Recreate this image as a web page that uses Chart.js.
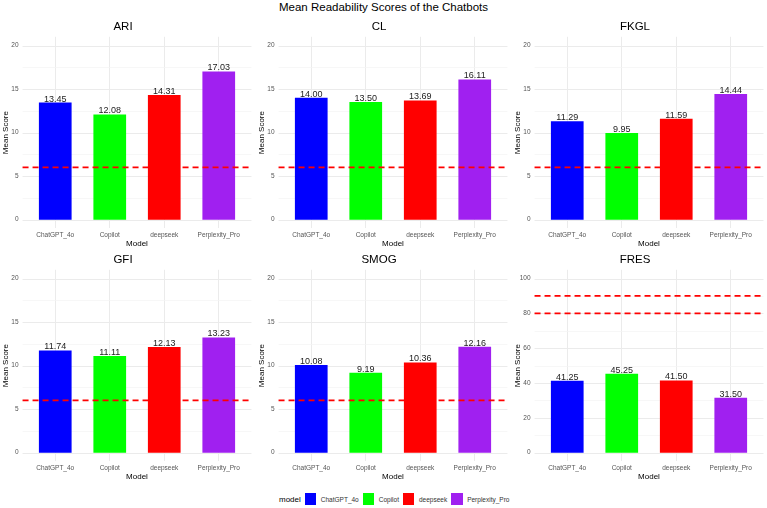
<!DOCTYPE html>
<html>
<head>
<meta charset="utf-8">
<script src="https://cdn.jsdelivr.net/npm/chart.js@4.4.1/dist/chart.umd.min.js"></script>
<style>
  body { margin: 0; background: #fff; width: 767px; height: 508px; position: relative; overflow: hidden;
         font-family: "Liberation Sans", Arial, sans-serif; }
  canvas { position: absolute; }
  #mainTitle { position: absolute; left: 0; top: 1px; width: 767px; text-align: center; font-size: 11.5px; color: #000; }
  #legend { position: absolute; left: 279px; top: 493px; height: 12px; display: flex; align-items: center; }
  #legend .ttl { font-size: 8px; color: #000; margin-right: 4px; }
  #legend .sw { width: 11.5px; height: 11.5px; margin-right: 4.5px; }
  #legend .lb { font-size: 6.5px; color: #333; margin-right: 4px; }
</style>
</head>
<body>
<div id="mainTitle">Mean Readability Scores of the Chatbots</div>
<div id="legend"><span class="ttl">model</span></div>

<script>
// categories + per-panel means
const models = ['ChatGPT_4o', 'Copilot', 'deepseek', 'Perplexity_Pro'];
const ariScores  = [13.45, 12.08, 14.31, 17.03];
const clScores   = [14.00, 13.50, 13.69, 16.11];
const fkglScores = [11.29, 9.95, 11.59, 14.44];
const gfiScores  = [11.74, 11.11, 12.13, 13.23];
const smogScores = [10.08, 9.19, 10.36, 12.16];
const fresScores = [41.25, 45.25, 41.50, 31.50];

// axis ticks and reference lines
const gradeTicks = [0, 5, 10, 15, 20];
const fresTicks = [0, 20, 40, 60, 80, 100];
const gradeTargets = [6];
const fresTargets = [80, 90];

const modelColors = ['#0000ff', '#00ff00', '#ff0000', '#a020f0'];

const panels = [
  { name: 'ARI',  values: ariScores,  ticks: gradeTicks, targets: gradeTargets, col: 0, row: 0 },
  { name: 'CL',   values: clScores,   ticks: gradeTicks, targets: gradeTargets, col: 1, row: 0 },
  { name: 'FKGL', values: fkglScores, ticks: gradeTicks, targets: gradeTargets, col: 2, row: 0 },
  { name: 'GFI',  values: gfiScores,  ticks: gradeTicks, targets: gradeTargets, col: 0, row: 1 },
  { name: 'SMOG', values: smogScores, ticks: gradeTicks, targets: gradeTargets, col: 1, row: 1 },
  { name: 'FRES', values: fresScores, ticks: fresTicks,  targets: fresTargets,  col: 2, row: 1 }
];

const colLeft = [0, 256, 512];
const rowTop = [18, 251];
const FONT = '"Liberation Sans", Arial, sans-serif';

// ggplot-like panel: grid wider than the bars, dashed refs, value labels
const panelDecor = {
  id: 'panelDecor',
  beforeDatasetsDraw(chart, args, opts) {
    const { ctx, chartArea, scales: { x, y } } = chart;
    const ext = 0.1 * (x.getPixelForValue(1) - x.getPixelForValue(0));
    ctx.save();
    y.ticks.forEach(t => {
      const py = Math.round(y.getPixelForValue(t.value)) + 0.5;
      const major = opts.majors.includes(t.value);
      ctx.strokeStyle = major ? '#ebebeb' : '#f4f4f4';
      ctx.lineWidth = major ? 1 : 0.7;
      ctx.beginPath();
      ctx.moveTo(chartArea.left - ext, py);
      ctx.lineTo(chartArea.right + ext, py);
      ctx.stroke();
    });
    ctx.restore();
  },
  afterDatasetsDraw(chart, args, opts) {
    const { ctx, chartArea, scales: { x, y } } = chart;
    const ext = 0.1 * (x.getPixelForValue(1) - x.getPixelForValue(0));
    ctx.save();
    ctx.strokeStyle = '#ff0000';
    ctx.lineWidth = 1.8;
    ctx.setLineDash([6, 4]);
    opts.targets.forEach(v => {
      const py = y.getPixelForValue(v);
      ctx.beginPath();
      ctx.moveTo(chartArea.left - ext, py);
      ctx.lineTo(chartArea.right + ext, py);
      ctx.stroke();
    });
    ctx.setLineDash([]);
    ctx.fillStyle = '#222';
    ctx.font = '9px ' + FONT;
    ctx.textAlign = 'center';
    ctx.textBaseline = 'alphabetic';
    const vals = chart.data.datasets[0].data;
    chart.getDatasetMeta(0).data.forEach((bar, i) => {
      ctx.fillText(vals[i].toFixed(2), bar.x, bar.y - 1);
    });
    ctx.restore();
  }
};

panels.forEach(p => {
  const canvas = document.createElement('canvas');
  canvas.width = 255;
  canvas.height = 232;
  canvas.style.left = colLeft[p.col] + 'px';
  canvas.style.top = rowTop[p.row] + 'px';
  document.body.appendChild(canvas);

  const step = p.ticks[1] - p.ticks[0];
  const span = p.ticks[p.ticks.length - 1] - p.ticks[0];
  const allTicks = [];
  p.ticks.forEach((v, i) => {
    allTicks.push(v);
    if (i < p.ticks.length - 1) allTicks.push(v + step / 2);
  });

  new Chart(canvas, {
    type: 'bar',
    data: {
      labels: models,
      datasets: [{
        data: p.values,
        backgroundColor: modelColors,
        borderWidth: 0,
        barPercentage: 0.6,
        categoryPercentage: 1
      }]
    },
    options: {
      responsive: false,
      animation: false,
      devicePixelRatio: 1,
      layout: { padding: { left: 0, right: 9, top: 0, bottom: 0 } },
      plugins: {
        legend: { display: false },
        tooltip: { enabled: false },
        title: {
          display: true,
          text: p.name,
          color: '#000',
          font: { family: FONT, size: 11.5, weight: 'normal', lineHeight: 1.2 },
          padding: { top: 2, bottom: 3 }
        },
        panelDecor: { majors: p.ticks, targets: p.targets }
      },
      scales: {
        x: {
          type: 'category',
          offset: true,
          border: { display: false },
          grid: { offset: false, color: '#ebebeb', drawTicks: false },
          ticks: {
            color: '#555', padding: 3, maxRotation: 0, autoSkip: false,
            font: { family: FONT, size: 6.5 }
          },
          title: {
            display: true, text: 'Model', color: '#000',
            font: { family: FONT, size: 8 }, padding: { top: 0, bottom: 1.2 }
          },
          afterFit: s => { s.height = 21.6; }
        },
        y: {
          type: 'linear',
          min: p.ticks[0] - span * 0.05,
          max: p.ticks[p.ticks.length - 1] + span * 0.05,
          afterBuildTicks: s => { s.ticks = allTicks.map(v => ({ value: v })); },
          border: { display: false },
          grid: { display: false, drawTicks: false },
          ticks: {
            color: '#555', padding: 9.5, autoSkip: false,
            font: { family: FONT, size: 6.5 },
            callback: v => (p.ticks.includes(v) ? v : '')
          },
          title: {
            display: true, text: 'Mean Score', color: '#000',
            font: { family: FONT, size: 8 }, padding: { top: 1.2, bottom: 0 }
          },
          afterFit: s => { s.width = 28; }
        }
      }
    },
    plugins: [panelDecor]
  });
});

// legend keys
const legend = document.getElementById('legend');
models.forEach((m, i) => {
  const sw = document.createElement('span');
  sw.className = 'sw';
  sw.style.background = modelColors[i];
  const lb = document.createElement('span');
  lb.className = 'lb';
  lb.textContent = m;
  legend.appendChild(sw);
  legend.appendChild(lb);
});
</script>
</body>
</html>
